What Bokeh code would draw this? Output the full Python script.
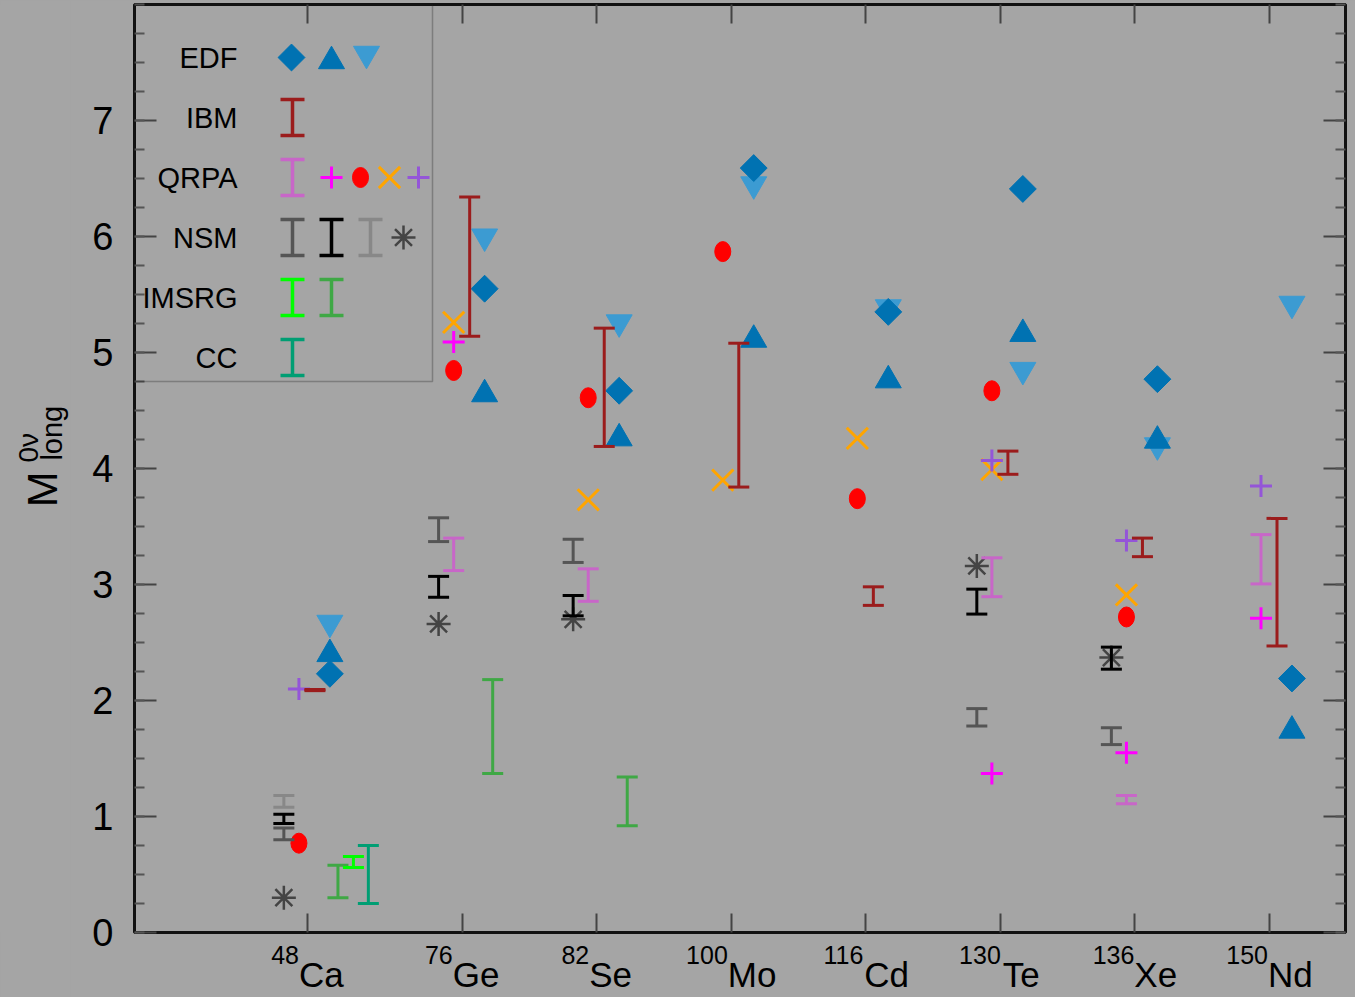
import math
import numpy as np
from bokeh.plotting import figure
from bokeh.layouts import row
from bokeh.models import (Range1d, LinearAxis, FixedTicker, Label, Whisker, TeeHead,
                          ColumnDataSource, BoxAnnotation, CustomJSTickFormatter)
from bokeh.embed import file_html
from bokeh.resources import INLINE

nan = float("nan")

# ---------------------------------------------------------------- data
NUCLEI = ["Ca", "Ge", "Se", "Mo", "Cd", "Te", "Xe", "Nd"]
MASS_NUMBERS = ["48", "76", "82", "100", "116", "130", "136", "150"]
NUCLEUS_POS = [0.85, 2, 3, 4, 5, 6, 7, 8]
Y_TICKS = [0, 1, 2, 3, 4, 5, 6, 7]

# EDF
edf_diamond = [2.23, 5.55, 4.67, 6.59, 5.35, 6.41, 4.77, 2.19]
edf_up = [2.40, 4.64, 4.26, 5.11, 4.76, 5.16, 4.24, 1.74]
edf_down = [2.67, 6.00, 5.26, 6.45, 5.39, 4.85, 4.20, 5.42]

# IBM
ibm_lo = [2.085, 5.14, 4.19, 3.84, 2.82, 3.95, 3.24, 2.47]
ibm_hi = [2.095, 6.34, 5.21, 5.08, 2.98, 4.15, 3.40, 3.57]

# QRPA
qrpa_band_lo = [nan, 3.12, 2.855, nan, nan, 2.895, 1.11, 3.005]
qrpa_band_hi = [nan, 3.40, 3.135, nan, nan, 3.23, 1.18, 3.43]
qrpa_plus = [nan, 5.09, nan, nan, nan, 1.37, 1.55, 2.71]
qrpa_dot = [0.77, 4.845, 4.61, 5.87, 3.74, 4.67, 2.72, nan]
qrpa_cross = [nan, 5.26, 3.73, 3.90, 4.26, 3.99, 2.91, nan]
qrpa_plus_b = [2.10, nan, nan, nan, nan, 4.07, 3.38, 3.85]

# NSM
nsm_a_lo = [0.80, 3.37, 3.19, nan, nan, 1.78, 1.62, nan]
nsm_a_hi = [0.90, 3.575, 3.39, nan, nan, 1.93, 1.765, nan]
nsm_b_lo = [0.94, 2.89, 2.73, nan, nan, 2.745, 2.27, nan]
nsm_b_hi = [1.02, 3.07, 2.905, nan, nan, 2.96, 2.46, nan]
nsm_c_lo = [1.08, nan, nan, nan, nan, nan, nan, nan]
nsm_c_hi = [1.18, nan, nan, nan, nan, nan, nan, nan]
nsm_star = [0.30, 2.66, 2.70, nan, nan, 3.16, 2.37, nan]

# IMSRG
imsrg_a_lo = [0.56, nan, nan, nan, nan, nan, nan, nan]
imsrg_a_hi = [0.655, nan, nan, nan, nan, nan, nan, nan]
imsrg_b_lo = [0.30, 1.37, 0.92, nan, nan, nan, nan, nan]
imsrg_b_hi = [0.58, 2.18, 1.34, nan, nan, nan, nan, nan]

# CC
cc_lo = [0.25, nan, nan, nan, nan, nan, nan, nan]
cc_hi = [0.75, nan, nan, nan, nan, nan, nan, nan]

# ---------------------------------------------------------------- style
BG = "#a5a5a5"
BLUE = "#0072b2"
LIGHT_BLUE = "#3c9bd2"
IBM_RED = "#9b1c1c"
ORCHID = "#c866c8"
MAGENTA = "#ff00ff"
RED = "#ff0000"
ORANGE = "#ffa500"
PURPLE = "#9455d8"
NSM_DARK = "#555555"
NSM_BLACK = "#000000"
NSM_LIGHT = "#888888"
STAR = "#444444"
GREEN_BRIGHT = "#00ff00"
GREEN = "#3fa845"
TEAL = "#009e73"

FONT = "Liberation Sans"

# horizontal offset of each method from its nucleus position
OFF = dict(nsm=-0.175, qrpa=-0.063, ibm=0.056, edf=0.167,
           imsrg_b=0.227, imsrg_a=0.342, cc=0.453)

X0, X1 = -0.435, 8.565
Y0, Y1 = 0.0, 8.0
W, H = 1355, 997
TITLE_W = 70                      # strip holding the rotated y title
FRAME_L, FRAME_T, FRAME_R, FRAME_B = 134, 4, 1345, 932


def sx(px):
    return X0 + (px - FRAME_L) / (FRAME_R - FRAME_L) * (X1 - X0)


def sy(py):
    return Y1 - (py - FRAME_T) / (FRAME_B - FRAME_T) * (Y1 - Y0)


PX_PER_X = (FRAME_R - FRAME_L) / (X1 - X0)
PX_PER_Y = (FRAME_B - FRAME_T) / (Y1 - Y0)

p = figure(width=W - TITLE_W, height=H, x_range=Range1d(X0, X1), y_range=Range1d(Y0, Y1),
           output_backend="svg", toolbar_location=None,
           x_axis_location=None, y_axis_location=None,
           min_border_left=FRAME_L - TITLE_W, min_border_right=W - FRAME_R,
           min_border_top=FRAME_T, min_border_bottom=H - FRAME_B)
p.background_fill_color = BG
p.border_fill_color = BG
p.outline_line_color = "#111111"
p.outline_line_width = 3
p.grid.visible = False

blank = CustomJSTickFormatter(code="return ''")
minor = list(np.arange(0, 8.001, 0.25))


def y_axis(with_labels):
    ax = LinearAxis(ticker=FixedTicker(ticks=Y_TICKS, minor_ticks=minor))
    ax.axis_line_color = None
    ax.major_tick_in = 22
    ax.major_tick_out = 0
    ax.minor_tick_in = 10
    ax.minor_tick_out = 0
    ax.major_tick_line_color = "#444444"
    ax.minor_tick_line_color = "#555555"
    ax.major_tick_line_width = 2
    ax.minor_tick_line_width = 2
    if with_labels:
        ax.major_label_text_font = FONT
        ax.major_label_text_font_size = "38px"
        ax.major_label_text_color = "#000000"
        ax.major_label_standoff = 21
    else:
        ax.formatter = blank
        ax.major_label_text_font_size = "1px"
        ax.major_label_standoff = 0
    return ax


def x_tick_axis():
    ax = LinearAxis(ticker=FixedTicker(ticks=NUCLEUS_POS, minor_ticks=[]))
    ax.axis_line_color = None
    ax.major_tick_in = 19
    ax.major_tick_out = 0
    ax.major_tick_line_color = "#444444"
    ax.major_tick_line_width = 2
    ax.formatter = blank
    ax.major_label_text_font_size = "1px"
    ax.major_label_standoff = 0
    return ax


def x_label_axis(ticks, labels, size, standoff):
    # tick-less axis that only carries text, one label per nucleus
    ax = LinearAxis(ticker=FixedTicker(ticks=ticks, minor_ticks=[]))
    ax.axis_line_color = None
    ax.major_tick_line_color = None
    ax.major_tick_in = 0
    ax.major_tick_out = 0
    ax.formatter = CustomJSTickFormatter(args=dict(labels=labels),
                                         code="return labels[index]")
    ax.major_label_text_font = FONT
    ax.major_label_text_font_size = f"{size}px"
    ax.major_label_text_color = "#000000"
    ax.major_label_standoff = standoff
    return ax


# nucleus labels: mass number raised at the left, element symbol at the right
ELEM_W = {"C": .722, "a": .556, "G": .778, "e": .556, "S": .667, "M": .833, "o": .556,
          "d": .556, "T": .611, "X": .667, "N": .722}
ELEM_SIZE, SUP_SIZE = 35, 25
sup_ticks, elem_ticks = [], []
for pos, el, mass in zip(NUCLEUS_POS, NUCLEI, MASS_NUMBERS):
    w_el = sum(ELEM_W[c] for c in el) * ELEM_SIZE
    w_sup = 0.556 * SUP_SIZE * len(mass)
    split = pos + (w_sup - w_el) / 2 / PX_PER_X
    sup_ticks.append(split - w_sup / 2 / PX_PER_X)
    elem_ticks.append(split + w_el / 2 / PX_PER_X)

p.add_layout(y_axis(True), "left")
p.add_layout(y_axis(False), "right")
p.add_layout(x_tick_axis(), "below")
p.add_layout(x_label_axis(sup_ticks, MASS_NUMBERS, SUP_SIZE, 13), "below")
p.add_layout(x_label_axis(elem_ticks, NUCLEI, ELEM_SIZE, -12), "below")
p.add_layout(x_tick_axis(), "above")


def pts(vals, key):
    xs, ys = [], []
    for pos, v in zip(NUCLEUS_POS, vals):
        if not math.isnan(v):
            xs.append(pos + OFF[key])
            ys.append(v)
    return xs, ys


def whiskers(xs, lo, hi, color, cap=21, lw=3):
    src = ColumnDataSource(dict(base=xs, lower=lo, upper=hi))
    w = Whisker(source=src, base="base", lower="lower", upper="upper",
                dimension="height", line_color=color, line_width=lw,
                upper_head=TeeHead(size=cap, line_color=color, line_width=lw),
                lower_head=TeeHead(size=cap, line_color=color, line_width=lw))
    w.level = "glyph"
    p.add_layout(w)


def bars(lo, hi, key, color):
    xs, l, h = [], [], []
    for pos, a, b in zip(NUCLEUS_POS, lo, hi):
        if not math.isnan(a):
            xs.append(pos + OFF[key])
            l.append(a)
            h.append(b)
    whiskers(xs, l, h, color)


def down_tri(x, y):
    p.scatter(x, y, marker="inverted_triangle", size=26, fill_color=LIGHT_BLUE, line_color=LIGHT_BLUE)


def up_tri(x, y):
    p.scatter(x, y, marker="triangle", size=26, fill_color=BLUE, line_color=BLUE)


def diamond(x, y):
    p.scatter(x, y, marker="square", angle=math.pi / 4, size=19, fill_color=BLUE, line_color=BLUE)


def plus(x, y, color):
    p.scatter(x, y, marker="cross", size=22, line_color=color, line_width=3)


def dot(x, y):
    p.ellipse(x, y, width=16, height=20, width_units="screen", height_units="screen",
              fill_color=RED, line_color=RED)


def xmark(x, y):
    p.scatter(x, y, marker="x", size=30, line_color=ORANGE, line_width=3)


def star(x, y):
    p.scatter(x, y, marker="asterisk", size=24, line_color=STAR, line_width=2.5)


# ---------------------------------------------------------------- data marks
bars(nsm_c_lo, nsm_c_hi, "nsm", NSM_LIGHT)
bars(nsm_a_lo, nsm_a_hi, "nsm", NSM_DARK)
bars(nsm_b_lo, nsm_b_hi, "nsm", NSM_BLACK)
star(*pts(nsm_star, "nsm"))

bars(qrpa_band_lo, qrpa_band_hi, "qrpa", ORCHID)
plus(*pts(qrpa_plus, "qrpa"), MAGENTA)
dot(*pts(qrpa_dot, "qrpa"))
xmark(*pts(qrpa_cross, "qrpa"))
plus(*pts(qrpa_plus_b, "qrpa"), PURPLE)

bars(ibm_lo, ibm_hi, "ibm", IBM_RED)

down_tri(*pts(edf_down, "edf"))
up_tri(*pts(edf_up, "edf"))
diamond(*pts(edf_diamond, "edf"))

bars(imsrg_b_lo, imsrg_b_hi, "imsrg_b", GREEN)
bars(imsrg_a_lo, imsrg_a_hi, "imsrg_a", GREEN_BRIGHT)
bars(cc_lo, cc_hi, "cc", TEAL)

# ---------------------------------------------------------------- legend
LEG_RIGHT, LEG_BOTTOM = 432, 381
ROW0, ROW_STEP = 57, 60
LABEL_X = 237
HALF = 18 / PX_PER_Y
TRI_SHIFT = 3.7          # keeps the triangles' outlines centred on the row
p.add_layout(BoxAnnotation(left=X0, right=sx(LEG_RIGHT), bottom=sy(LEG_BOTTOM), top=Y1,
                           fill_alpha=0, line_color="#222222", line_width=1.5))

rows = ["EDF", "IBM", "QRPA", "NSM", "IMSRG", "CC"]
for i, name in enumerate(rows):
    ry = ROW0 + i * ROW_STEP
    p.add_layout(Label(x=sx(LABEL_X), y=sy(ry), text=name, text_align="right",
                       text_baseline="middle", text_font=FONT,
                       text_font_size="29px", text_color="#000000"))


def leg_bar(px, row_i, color):
    ry = sy(ROW0 + row_i * ROW_STEP)
    whiskers([sx(px)], [ry - HALF], [ry + HALF], color, cap=24, lw=3.5)


diamond([sx(291)], [sy(ROW0)])
up_tri([sx(331)], [sy(ROW0 + TRI_SHIFT)])
down_tri([sx(366)], [sy(ROW0 - TRI_SHIFT)])

leg_bar(292, 1, IBM_RED)

r = sy(ROW0 + 2 * ROW_STEP)
leg_bar(292, 2, ORCHID)
plus([sx(331)], [r], MAGENTA)
dot([sx(360)], [r])
xmark([sx(389)], [r])
plus([sx(418)], [r], PURPLE)

r = sy(ROW0 + 3 * ROW_STEP)
leg_bar(292, 3, NSM_DARK)
leg_bar(331, 3, NSM_BLACK)
leg_bar(370, 3, NSM_LIGHT)
star([sx(403)], [r])

leg_bar(292, 4, GREEN_BRIGHT)
leg_bar(331, 4, GREEN)
leg_bar(292, 5, TEAL)

# ---------------------------------------------------------------- y title (strip at left)
left = figure(width=TITLE_W, height=H, x_range=Range1d(0, TITLE_W), y_range=Range1d(0, H),
              output_backend="svg", toolbar_location=None,
              x_axis_location=None, y_axis_location=None, min_border=0)
left.background_fill_color = BG
left.border_fill_color = BG
left.outline_line_color = None
left.grid.visible = False
left.add_layout(Label(x=41, y=H - 540, text="M", angle=math.pi / 2, text_align="left",
                      text_baseline="middle", text_font=FONT, text_font_size="43px",
                      text_color="#000000"))
left.add_layout(Label(x=28, y=H - 492, text="0\u03bd", angle=math.pi / 2, text_align="left",
                      text_baseline="middle", text_font=FONT, text_font_size="28px",
                      text_color="#000000"))
left.add_layout(Label(x=51, y=H - 490, text="long", angle=math.pi / 2, text_align="left",
                      text_baseline="middle", text_font=FONT, text_font_size="29px",
                      text_color="#000000"))

layout = row(left, p, spacing=0, styles={"background-color": BG})
open("out.html", "w").write(file_html(layout, INLINE))
